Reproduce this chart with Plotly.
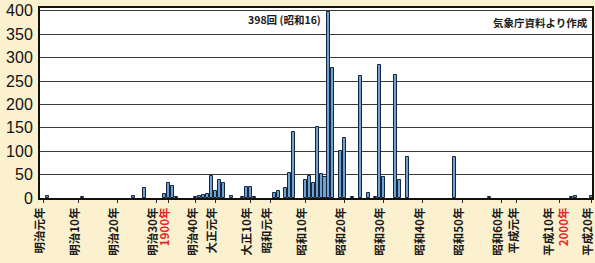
import plotly.graph_objects as go

# Annual counts
years = [1869, 1878, 1891, 1894, 1899, 1900, 1901, 1902, 1907, 1908, 1909, 1910,
         1911, 1912, 1913, 1914, 1916, 1919, 1920, 1921, 1922, 1927, 1928, 1930,
         1931, 1932, 1935, 1936, 1937, 1938, 1939, 1940, 1941, 1942, 1944, 1945,
         1947, 1949, 1951, 1953, 1954, 1955, 1958, 1959, 1961, 1973, 1982,
         2003, 2004, 2008]
counts = [4, 2, 5, 22, 8, 33, 25, 2, 2, 4, 6, 8,
          47, 15, 38, 32, 5, 3, 23, 23, 3, 11, 14, 21,
          53, 140, 38, 47, 32, 151, 51, 45, 398, 277, 100, 128,
          2, 260, 10, 3, 285, 45, 262, 38, 87, 87, 2,
          3, 4, 4]

RED = "<span style='color:#e8262a'>{}</span>"
tick_years = [1868, 1877, 1887, 1897, 1900, 1907, 1912, 1921, 1926, 1935, 1945,
              1955, 1965, 1975, 1985, 1989, 2000, 2008]
tick_texts = ["明治元年", "明治10年", "明治20年", "明治30年",
              RED.format("1900年"), "明治40年", "大正元年",
              "大正10年", "昭和元年", "昭和10年", "昭和20年", "昭和30年", "昭和40年",
              "昭和50年", "昭和60年", "平成元年",
              "平成10年<br>" + RED.format("2000年"), "平成20年"]
y_ticks = [0, 50, 100, 150, 200, 250, 300, 350, 400]

fig = go.Figure()
fig.add_trace(go.Bar(
    x=years, y=counts, width=0.78,
    marker=dict(color="#6fa2d4", line=dict(color="#17263a", width=1)),
))

fig.add_annotation(x=1939.6, y=382, xref="x", yref="y", text="398回 (昭和16)",
                   showarrow=False, xanchor="right", yanchor="middle",
                   font=dict(family="Noto Sans CJK JP", size=10.5, color="#1a1a1a", weight=700))
fig.add_annotation(x=0.996, y=376, xref="paper", yref="y", text="気象庁資料より作成",
                   showarrow=False, xanchor="right", yanchor="middle",
                   font=dict(family="Noto Sans CJK JP", size=10.5, color="#1a1a1a", weight=700))

fig.update_layout(
    width=595, height=263,
    margin=dict(l=40, r=3, t=8, b=65),
    paper_bgcolor="#fbf1cf",
    plot_bgcolor="#ffffff",
    showlegend=False,
    bargap=0,
    xaxis=dict(
        range=[1867.2, 2008.2],
        tickvals=tick_years, ticktext=tick_texts,
        tickangle=-90,
        tickfont=dict(family="Noto Sans CJK JP", size=11.5, color="#1a1a1a", weight=700),
        showgrid=False, zeroline=False,
        showline=True, linecolor="#111", linewidth=2, mirror=True,
        ticks="outside", ticklen=3, tickcolor="#333",
        ticklabelshift=-3,
        ticklabeloverflow="allow",
        automargin=False,
    ),
    yaxis=dict(
        range=[0, 406],
        tickvals=y_ticks,
        tickfont=dict(family="Liberation Sans", size=16, color="#111"),
        showgrid=True, gridcolor="#3a3a3a", gridwidth=1,
        zeroline=False,
        showline=True, linecolor="#111", linewidth=2, mirror=True,
        ticks="", ticklabelstandoff=2,
        automargin=False,
    ),
)

fig.write_html(
    "out.html",
    config={"displayModeBar": False},
    post_script="document.body.style.margin='0';document.body.style.overflow='hidden';",
)
